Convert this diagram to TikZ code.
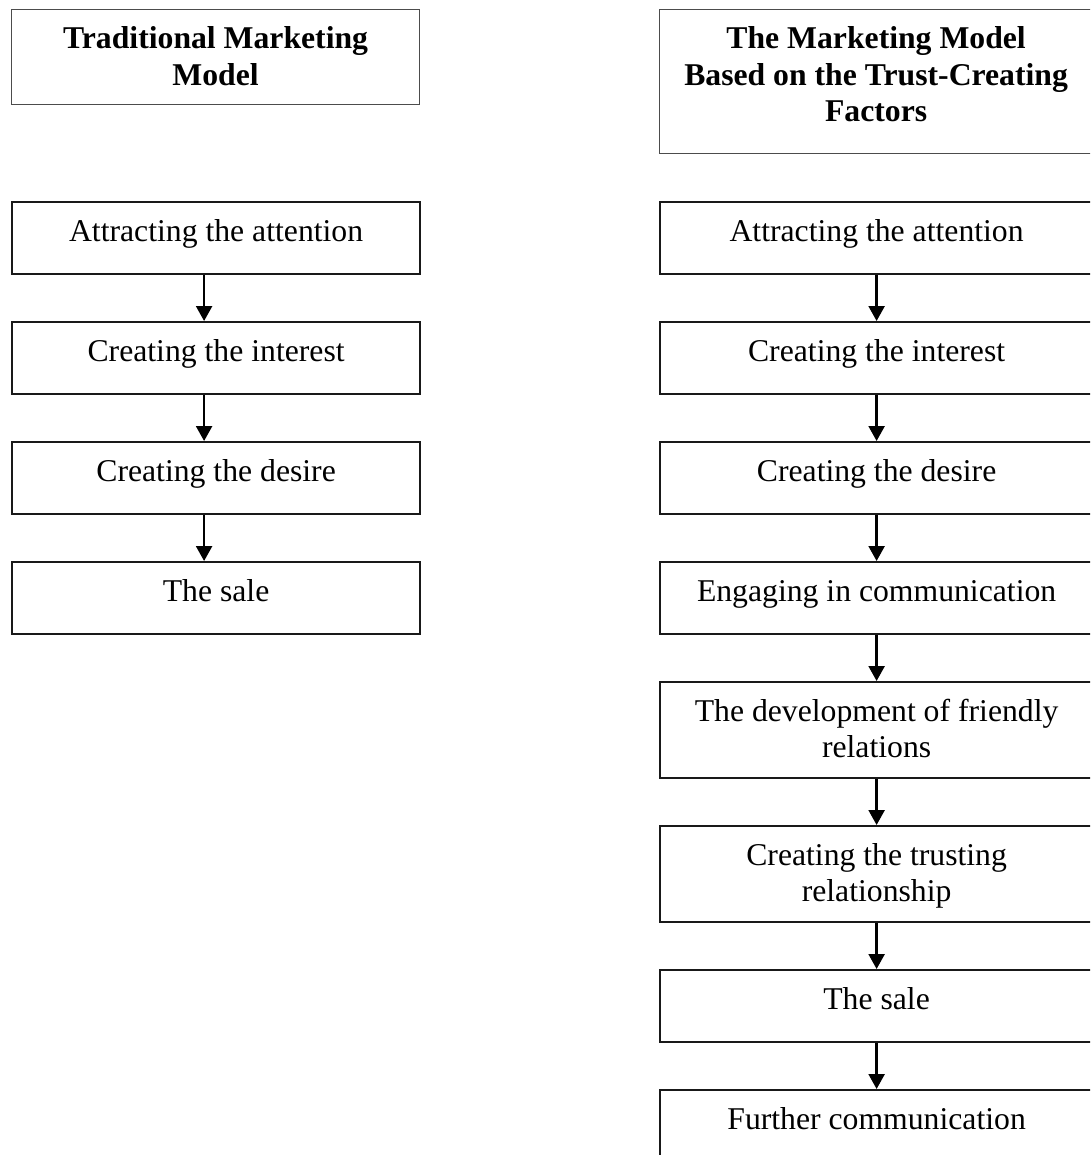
\documentclass[tikz,border=0pt]{standalone}
\usepackage{fontspec}
\setmainfont{Liberation Serif}
\usetikzlibrary{arrows.meta}
\begin{document}
\begin{tikzpicture}[x=1pt,y=-1pt,
  basebox/.style={inner sep=0pt, align=flush center, anchor=north west, text height=39pt, font=\fontsize{31.7}{36.5}\selectfont},
  titlebox/.style={basebox, draw=black!70, line width=1.2pt, font=\bfseries\fontsize{31.7}{36.5}\selectfont},
  stepbox/.style={basebox, draw=black!90, line width=2.2pt},
  leftw/.style={text width=408pt},
  rightw/.style={text width=433pt},
  oneline/.style={text depth=33pt},
  twoline/.style={text depth=57pt},
  arr/.style={line width=2.4pt, -{Triangle[length=15pt,width=16pt]}}]
\useasboundingbox (0,0) rectangle (1090,1155);
\clip (0,0) rectangle (1090,1155);
% left column
\node[titlebox, leftw, text depth=56pt] (LT) at (11,9) {Traditional Marketing\\Model};
\node[stepbox, leftw, oneline] (L1) at (11,201) {Attracting the attention};
\node[stepbox, leftw, oneline] (L2) at (11,321) {Creating the interest};
\node[stepbox, leftw, oneline] (L3) at (11,441) {Creating the desire};
\node[stepbox, leftw, oneline] (L4) at (11,561) {The sale};
\draw[arr] ([xshift=-12pt]L1.south) -- ([xshift=-12pt]L2.north);
\draw[arr] ([xshift=-12pt]L2.south) -- ([xshift=-12pt]L3.north);
\draw[arr] ([xshift=-12pt]L3.south) -- ([xshift=-12pt]L4.north);
% right column
\node[titlebox, rightw, text depth=105pt] (RT) at (659,9) {The Marketing Model\\Based on the Trust-Creating\\Factors};
\node[stepbox, rightw, oneline] (R1) at (659,201) {Attracting the attention};
\node[stepbox, rightw, oneline] (R2) at (659,321) {Creating the interest};
\node[stepbox, rightw, oneline] (R3) at (659,441) {Creating the desire};
\node[stepbox, rightw, oneline] (R4) at (659,561) {Engaging in communication};
\node[stepbox, rightw, twoline] (R5) at (659,681) {The development of friendly\\relations};
\node[stepbox, rightw, twoline] (R6) at (659,825) {Creating the trusting\\relationship};
\node[stepbox, rightw, oneline] (R7) at (659,969) {The sale};
\node[stepbox, rightw, oneline] (R8) at (659,1089) {Further communication};
\foreach \a/\b in {R1/R2,R2/R3,R3/R4,R4/R5,R5/R6,R6/R7,R7/R8}
  \draw[arr] (\a.south) -- (\b.north);
\end{tikzpicture}
\end{document}
